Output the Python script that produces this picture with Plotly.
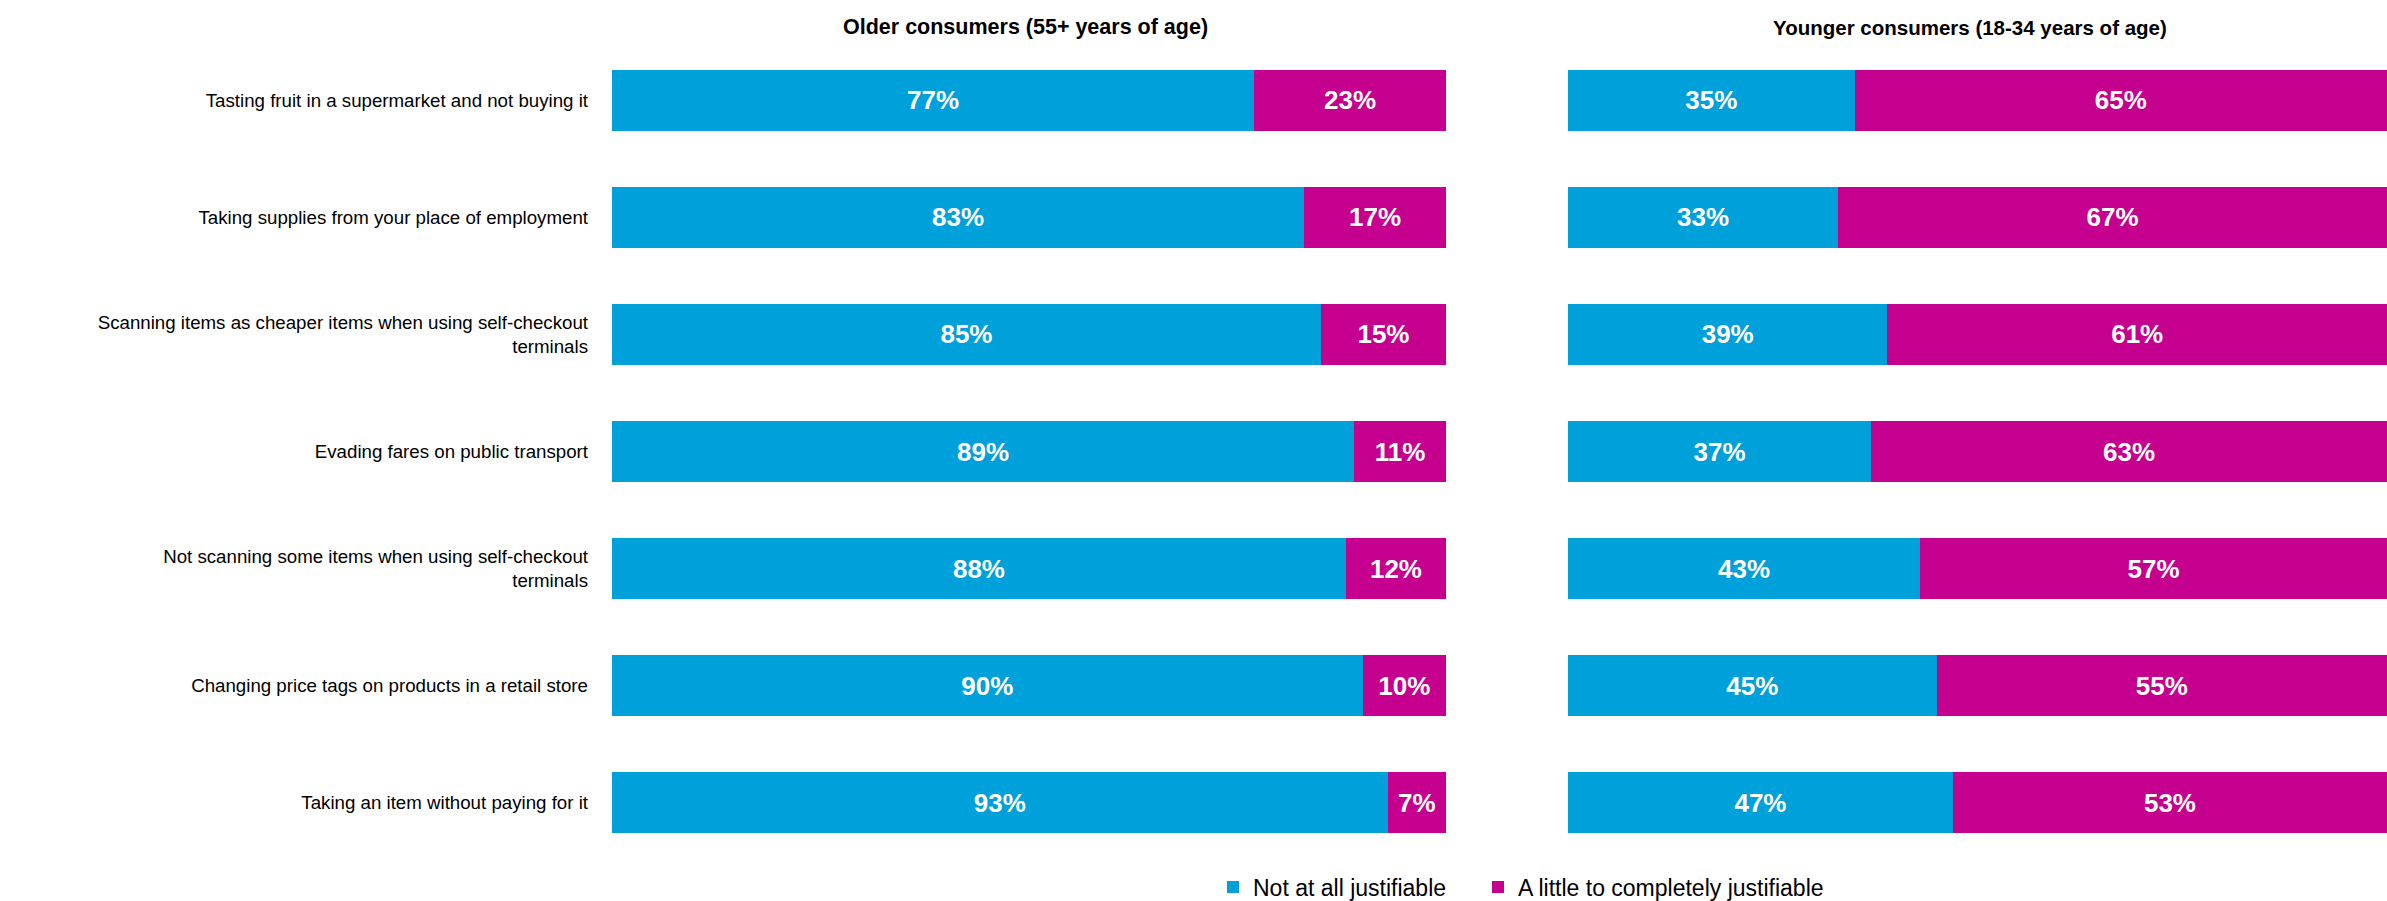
import plotly.graph_objects as go

# categories, top to bottom
behaviours = [
    "Tasting fruit in a supermarket and not buying it",
    "Taking supplies from your place of employment",
    "Scanning items as cheaper items when using self-checkout<br>terminals",
    "Evading fares on public transport",
    "Not scanning some items when using self-checkout<br>terminals",
    "Changing price tags on products in a retail store",
    "Taking an item without paying for it",
]

older_not = [77, 83, 85, 89, 88, 90, 93]
older_little = [23, 17, 15, 11, 12, 10, 7]
younger_not = [35, 33, 39, 37, 43, 45, 47]
younger_little = [65, 67, 61, 63, 57, 55, 53]

panel_titles = ["Older consumers (55+ years of age)", "Younger consumers (18-34 years of age)"]
series_names = ["Not at all justifiable", "A little to completely justifiable"]

BLUE = "#00A0DA"
MAGENTA = "#C6008E"
FONT = "Liberation Sans, Arial, sans-serif"
W, H = 2387, 901

fig = go.Figure()


def add_pair(vals_not, vals_little, xa, ya, show):
    pairs = [(vals_not, series_names[0], BLUE, "legend"),
             (vals_little, series_names[1], MAGENTA, "legend2")]
    for vals, name, color, lg in pairs:
        fig.add_trace(go.Bar(
            y=behaviours, x=vals, name=name, orientation="h",
            marker=dict(color=color, line=dict(width=0)),
            text=[f"{v}%" for v in vals], textposition="inside",
            insidetextanchor="middle", textangle=0,
            textfont=dict(color="white", size=26, family=FONT, weight="bold"),
            width=0.52, xaxis=xa, yaxis=ya, showlegend=show, legendgroup=name, legend=lg,
        ))


add_pair(older_not, older_little, "x", "y", True)
add_pair(younger_not, younger_little, "x2", "y2", False)

left_dom = [612 / W, 1446 / W]
right_dom = [1568 / W, 1.0]
y_dom = [1 - 861.5 / H, 1 - 41.5 / H]

legend_style = dict(orientation="h", xanchor="left", y=1 - 887 / H, yanchor="middle",
                    font=dict(size=23, family=FONT, color="black"), bgcolor="rgba(0,0,0,0)")

fig.update_layout(
    width=W, height=H, barmode="stack",
    margin=dict(l=0, r=0, t=0, b=0, autoexpand=False),
    paper_bgcolor="white", plot_bgcolor="white",
    font=dict(family=FONT, color="black", size=19),
    uniformtext=dict(mode="show", minsize=10),
    xaxis=dict(domain=left_dom, range=[0, 100], visible=False, fixedrange=True),
    xaxis2=dict(domain=right_dom, range=[0, 100], visible=False, fixedrange=True),
    yaxis=dict(domain=y_dom, autorange="reversed", showline=False, showgrid=False,
               ticks="", ticklabelstandoff=23, automargin=False,
               tickfont=dict(size=18.7, family=FONT, color="black"), anchor="x"),
    yaxis2=dict(domain=y_dom, autorange="reversed", showticklabels=False, showgrid=False,
                showline=False, anchor="x2", matches="y"),
    legend=dict(x=1213 / W, **legend_style),
    legend2=dict(x=1478 / W, **legend_style),
    showlegend=True,
)

for xc, size, title in zip([1025 / W, 1970 / W], [21.5, 20.5], panel_titles):
    fig.add_annotation(
        text=f"<b>{title}</b>", x=xc, y=1 - 27 / H,
        xref="paper", yref="paper", showarrow=False, xanchor="center", yanchor="middle",
        font=dict(size=size, family=FONT, color="black"),
    )

# the page body has a default 8px margin; drop it so the figure sits at the window origin
fig.write_html("out.html", config={"displayModeBar": False},
               post_script="document.body.style.margin='0';document.body.style.overflow='hidden';")
